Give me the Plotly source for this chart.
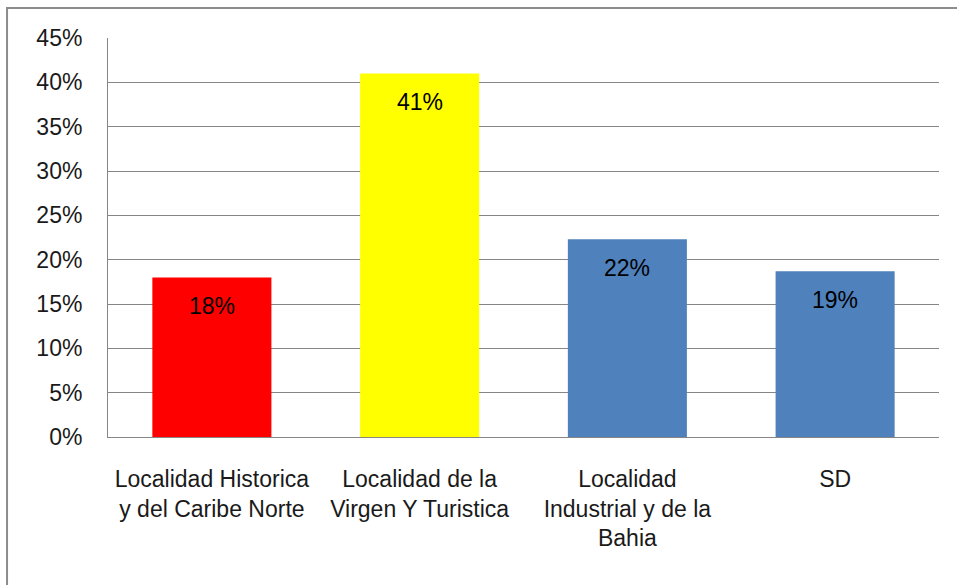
import plotly.graph_objects as go

categories = ["Localidad Historica y del Caribe Norte", "Localidad de la Virgen Y Turistica",
              "Localidad Industrial y de la Bahia", "SD"]
tick_labels = ["Localidad Historica<br>y del Caribe Norte", "Localidad de la<br>Virgen Y Turistica",
               "Localidad<br>Industrial y de la<br>Bahia", "SD"]
values = [0.18, 0.41, 0.223, 0.187]
value_labels = ["18%", "41%", "22%", "19%"]
colors = ["#FF0000", "#FFFF00", "#4F81BD", "#4F81BD"]
y_ticks = [i * 0.05 for i in range(10)]
y_tick_labels = [f"{i*5}%" for i in range(10)]

FONT = "Liberation Sans, Open Sans, sans-serif"

fig = go.Figure()
fig.add_trace(go.Bar(x=categories, y=values, marker=dict(color=colors, line=dict(width=0)),
                     hoverinfo="skip"))

for c, v, t in zip(categories, values, value_labels):
    fig.add_annotation(x=c, y=v, text=t, showarrow=False, yanchor="top", yshift=-14,
                       font=dict(size=23, color="#000000", family=FONT))

# outer chart border
fig.add_shape(type="rect", xref="paper", yref="paper", x0=-0.1215, y0=-1.0, x1=2.0, y1=1.0752,
              line=dict(color="#8C8C8C", width=2), fillcolor="rgba(0,0,0,0)", layer="below")

fig.update_layout(
    width=957, height=585,
    margin=dict(l=108, r=18, t=38, b=148),
    paper_bgcolor="white", plot_bgcolor="white",
    bargap=0.427,
    showlegend=False,
    font=dict(family=FONT, size=23, color="#000000"),
    xaxis=dict(tickmode="array", tickvals=categories, ticktext=tick_labels,
               showgrid=False, showline=True, linecolor="#868686", linewidth=1,
               ticks="", ticklabelstandoff=21, tickfont=dict(size=23, color="#1a1a1a")),
    yaxis=dict(range=[0, 0.45], tickvals=y_ticks, ticktext=y_tick_labels,
               showgrid=True, gridcolor="#868686", gridwidth=1,
               showline=True, linecolor="#868686", linewidth=1, zeroline=False,
               ticks="", ticklabelstandoff=20, tickfont=dict(size=23, color="#1a1a1a")),
)

fig.write_html("out.html")
